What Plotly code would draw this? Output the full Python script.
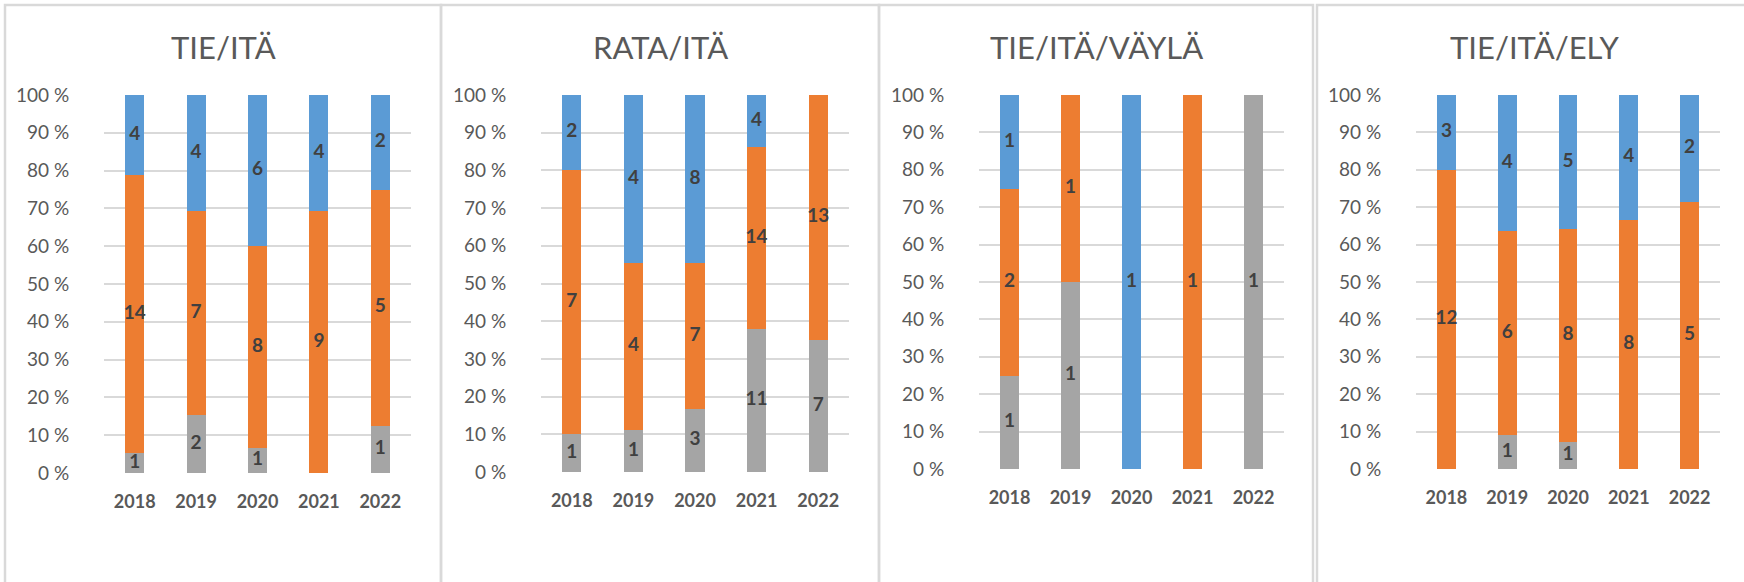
import plotly.graph_objects as go
import numpy as np

W, H = 1744, 582

years = ["2018", "2019", "2020", "2021", "2022"]

titles = ["TIE/ITÄ", "RATA/ITÄ", "TIE/ITÄ/VÄYLÄ", "TIE/ITÄ/ELY"]

# counts per panel: gray (bottom), orange (middle), blue (top)
tie_ita_gray = [1, 2, 1, 0, 1]
tie_ita_orange = [14, 7, 8, 9, 5]
tie_ita_blue = [4, 4, 6, 4, 2]

rata_ita_gray = [1, 1, 3, 11, 7]
rata_ita_orange = [7, 4, 7, 14, 13]
rata_ita_blue = [2, 4, 8, 4, 0]

vayla_gray = [1, 1, 0, 0, 1]
vayla_orange = [2, 1, 0, 1, 0]
vayla_blue = [1, 0, 1, 0, 0]

ely_gray = [0, 1, 1, 0, 0]
ely_orange = [12, 6, 8, 8, 5]
ely_blue = [3, 4, 5, 4, 2]

panels = [
    (tie_ita_gray, tie_ita_orange, tie_ita_blue),
    (rata_ita_gray, rata_ita_orange, rata_ita_blue),
    (vayla_gray, vayla_orange, vayla_blue),
    (ely_gray, ely_orange, ely_blue),
]

colors = ["#A5A5A5", "#ED7D31", "#5B9BD5"]

# layout geometry in pixels
plot_x = [(104, 411), (541, 849), (979, 1284), (1416, 1720)]
plot_y = [(95, 473), (95, 472), (95, 469), (95, 469)]
frames = [(5, 441), (441, 879), (879, 1313), (1317, 1752)]

FONT = "Lato"
GREY = "#595959"

fig = go.Figure()
layout_axes = {}
annotations = []
shapes = []

for i, (series, title) in enumerate(zip(panels, titles)):
    idx = "" if i == 0 else str(i + 1)
    xa, ya = "x" + idx, "y" + idx
    arr = np.array(series, dtype=float)
    tot = arr.sum(axis=0)
    pct = arr / tot * 100
    cum = np.cumsum(pct, axis=0)
    for s in range(3):
        fig.add_trace(go.Bar(
            x=years, y=pct[s], marker=dict(color=colors[s], line=dict(width=0)),
            width=0.31, xaxis=xa, yaxis=ya, showlegend=False,
            hoverinfo="skip",
        ))
    # labels
    for s in range(3):
        mids = cum[s] - pct[s] / 2
        txt = [str(int(v)) if v > 0 else "" for v in arr[s]]
        fig.add_trace(go.Scatter(
            x=years, y=mids, text=txt, mode="text",
            textfont=dict(family=FONT, size=19, color="#404040", weight="bold"),
            xaxis=xa, yaxis=ya, showlegend=False, hoverinfo="skip",
        ))
    x0, x1 = plot_x[i]
    y0, y1 = plot_y[i]
    layout_axes["xaxis" + idx] = dict(
        domain=[x0 / W, x1 / W], anchor=ya, type="category",
        showgrid=False, zeroline=False, showline=False, automargin=False,
        ticks="outside", ticklen=12, tickcolor="rgba(0,0,0,0)",
        tickfont=dict(family=FONT, size=18, color=GREY, weight="bold"),
        fixedrange=True,
    )
    layout_axes["yaxis" + idx] = dict(
        domain=[1 - y1 / H, 1 - y0 / H], anchor=xa, range=[0, 100],
        tickmode="array", tickvals=list(range(0, 101, 10)),
        ticktext=[f"{v} %" for v in range(0, 101, 10)],
        showgrid=True, gridcolor="#D9D9D9", gridwidth=1.5,
        zeroline=False, showline=False, automargin=False,
        ticks="outside", ticklen=30, tickcolor="rgba(0,0,0,0)",
        tickfont=dict(family=FONT, size=19, color=GREY),
        fixedrange=True,
    )
    fx0, fx1 = frames[i]
    annotations.append(dict(
        text=title, x=(fx0 + fx1) / 2 / W, y=1 - 47 / H, xref="paper", yref="paper",
        xanchor="center", yanchor="middle", showarrow=False,
        font=dict(family=FONT, size=31, color=GREY),
    ))
    shapes.append(dict(
        type="rect", xref="paper", yref="paper",
        x0=fx0 / W, x1=fx1 / W, y0=1 - 5 / H, y1=-0.1,
        line=dict(color="#D9D9D9", width=2.5), fillcolor="rgba(0,0,0,0)",
        layer="below",
    ))

fig.update_layout(
    width=W, height=H, margin=dict(l=0, r=0, t=0, b=0, autoexpand=False),
    paper_bgcolor="white", plot_bgcolor="white",
    barmode="stack", annotations=annotations, shapes=shapes,
    **layout_axes,
)

fig.write_html(
    "out.html",
    config={"displayModeBar": False},
    post_script="document.body.style.margin='0';document.body.style.overflow='hidden';",
)
